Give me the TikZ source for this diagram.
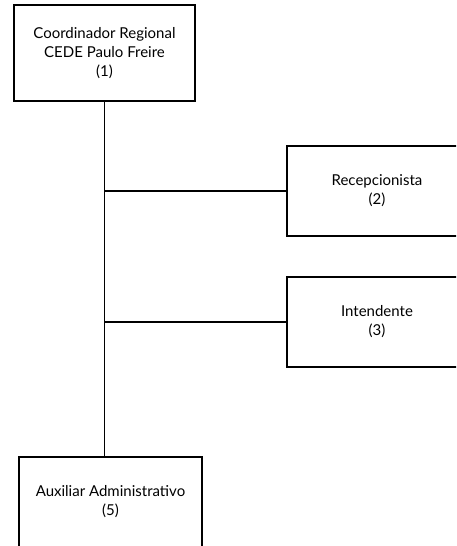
\documentclass[tikz,border=0pt]{standalone}
\usepackage{fontspec}
\setmainfont{Lato}
\usetikzlibrary{positioning}

\begin{document}
\begin{tikzpicture}[
  x=1pt, y=-1pt, font=\fontsize{15}{19}\selectfont,
  post/.style={draw, line width=1.2pt, fill=white, align=center,
               minimum width=180pt, minimum height=90pt, inner sep=2pt},
  link/.style={line width=1.8pt}]
  \useasboundingbox (0,0) rectangle (456,546);
  \clip (0,0) rectangle (456,546);
  \node[post, minimum width=181pt, minimum height=96pt] (coord) at (104.5,53)
     {Coordinador Regional\\CEDE Paulo Freire\\(1)};
  \node[post] (recep) at (377,191) {Recepcionista\\(2)};
  \node[post] (intend) at (377,322) {Intendente\\(3)};
  \node[post, minimum width=183pt] (aux) at (110.5,502) {Auxiliar Administrativo\\(5)};
  \draw[link] (coord.south) -- (coord.south |- aux.north);
  \foreach \b in {recep, intend}{
    \draw[link] (coord.south |- \b.west) -- (\b.west);}
\end{tikzpicture}
\end{document}
